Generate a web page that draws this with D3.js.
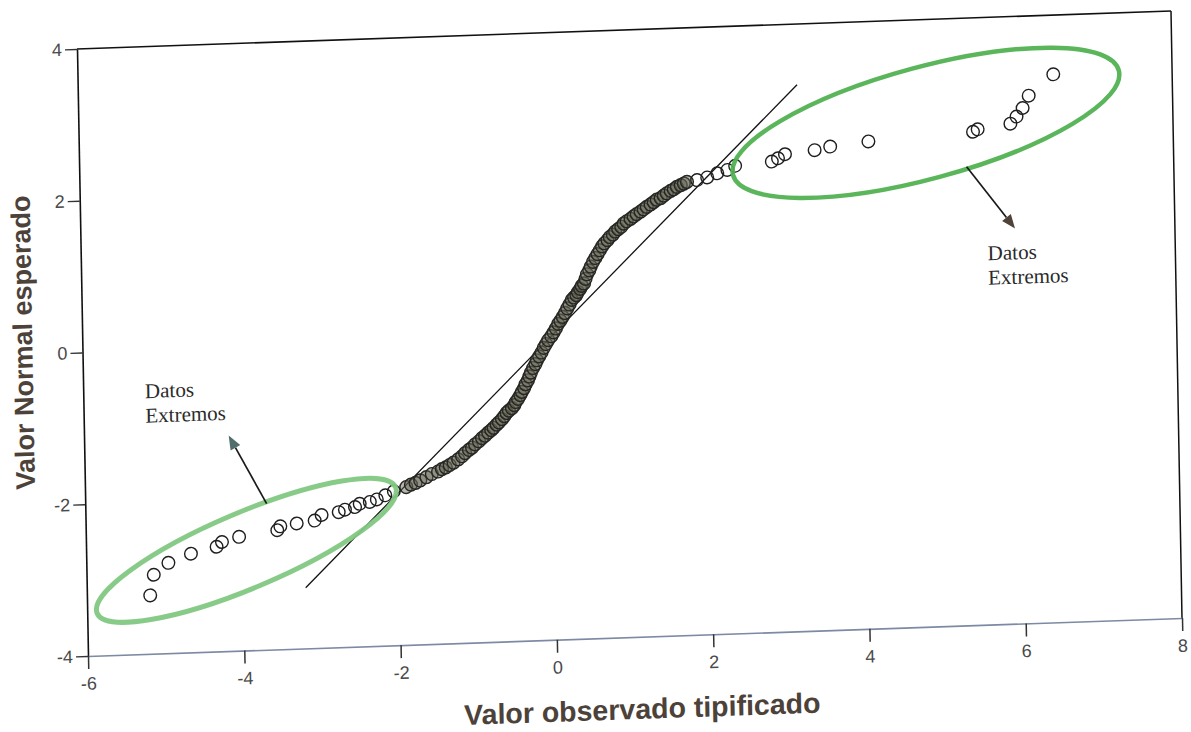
<!DOCTYPE html>
<html>
<head>
<meta charset="utf-8">
<script src="https://cdn.jsdelivr.net/npm/d3@7"></script>
<style>
  body { margin: 0; background: #ffffff; }
  svg { display: block; }
</style>
</head>
<body>
<svg id="chart" width="1191" height="732"></svg>
<script>
// Normal Q-Q plot: observed standardized value (x) against expected normal value (y)

// lower tail of the sample
const lowTailX = [-5.19, -5.14, -4.95, -4.66, -4.33, -4.26, -4.04, -3.55, -3.51, -3.30,
                  -3.07, -2.98, -2.76, -2.68, -2.55, -2.49, -2.36, -2.27, -2.16, -2.05];
const lowTailY = [-3.23, -2.96, -2.81, -2.70, -2.62, -2.56, -2.50, -2.43, -2.38, -2.35,
                  -2.32, -2.25, -2.22, -2.19, -2.16, -2.12, -2.10, -2.07, -2.02, -1.97];

// central body of the sample
const bodyX = [-1.89, -1.83, -1.77, -1.71, -1.63, -1.56, -1.48, -1.43, -1.38, -1.33,
               -1.28, -1.22, -1.17, -1.13, -1.08, -1.04, -1.00, -0.95, -0.91, -0.87,
               -0.83, -0.79, -0.76, -0.72, -0.69, -0.65, -0.62, -0.59, -0.56, -0.52,
               -0.49, -0.47, -0.44, -0.41, -0.39, -0.36, -0.34, -0.31, -0.29, -0.27,
               -0.24, -0.21, -0.19, -0.16, -0.13, -0.10, -0.07, -0.04, 0.00, 0.03,
               0.06, 0.09, 0.12, 0.15, 0.18, 0.21, 0.24, 0.27, 0.30, 0.33,
               0.35, 0.38, 0.40, 0.43, 0.45, 0.47, 0.50, 0.52, 0.55, 0.58,
               0.61, 0.64, 0.67, 0.70, 0.74, 0.77, 0.81, 0.84, 0.88, 0.92,
               0.95, 0.99, 1.04, 1.08, 1.12, 1.17, 1.21, 1.25, 1.30, 1.34,
               1.38, 1.43, 1.47, 1.51, 1.56, 1.60, 1.64, 1.69, 1.73, 1.77];
const bodyY = [-1.92, -1.89, -1.87, -1.84, -1.80, -1.76, -1.73, -1.70, -1.68, -1.65,
               -1.62, -1.58, -1.54, -1.50, -1.46, -1.43, -1.39, -1.35, -1.31, -1.28,
               -1.24, -1.21, -1.18, -1.14, -1.11, -1.07, -1.03, -0.99, -0.96, -0.93,
               -0.89, -0.85, -0.81, -0.76, -0.72, -0.67, -0.62, -0.57, -0.52, -0.47,
               -0.41, -0.36, -0.31, -0.26, -0.21, -0.15, -0.10, -0.05, 0.00, 0.05,
               0.10, 0.16, 0.20, 0.25, 0.30, 0.36, 0.41, 0.47, 0.50, 0.53,
               0.57, 0.61, 0.65, 0.68, 0.74, 0.80, 0.85, 0.90, 0.96, 1.01,
               1.06, 1.11, 1.16, 1.20, 1.24, 1.28, 1.31, 1.35, 1.38, 1.41,
               1.45, 1.48, 1.51, 1.54, 1.57, 1.60, 1.63, 1.66, 1.69, 1.72,
               1.75, 1.77, 1.80, 1.83, 1.86, 1.88, 1.91, 1.93, 1.95, 1.97];

// upper tail of the sample
const highTailX = [1.90, 2.03, 2.16, 2.29, 2.39,
                   2.86, 2.94, 3.03, 3.41, 3.61, 4.10, 5.44, 5.50, 5.92, 6.00, 6.08, 6.16, 6.48];
const highTailY = [1.99, 2.02, 2.07, 2.11, 2.16,
                   2.20, 2.24, 2.29, 2.33, 2.37, 2.42, 2.50, 2.53, 2.59, 2.68, 2.79, 2.95, 3.22];

// axes
const xDomain = [-6, 8];
const yDomain = [-4, 4];
const xTicks = [-6, -4, -2, 0, 2, 4, 6, 8];
const yTicks = [-4, -2, 0, 2, 4];
const xTitle = "Valor observado tipificado";
const yTitle = "Valor Normal esperado";

// reference line y = x
const refLineX = [-3.2, 3.2];

// "Datos Extremos" call-outs: low group, high group
const noteLines = ["Datos", "Extremos"];
const groupCenterX = [-3.95, 4.84];
const groupCenterY = [-2.68, 2.64];
const arrowFromX = [-3.68, 5.35];
const arrowFromY = [-2.075, 2.042];
const arrowToX = [-4.15, 5.955];
const arrowToY = [-1.16, 1.207];
const noteX = [-5.21, 5.60];
const noteY = [-0.63, 0.80];

// ---------------------------------------------------------------------------
const W = 1094, H = 607;
const svg = d3.select("#chart");

// the printed page sits slightly askew
const g = svg.append("g")
  .attr("transform", "matrix(1,-0.03473,0.01812,1,77,49)");

const x = d3.scaleLinear().domain(xDomain).range([0, W]);
const y = d3.scaleLinear().domain(yDomain).range([H, 0]);

const tickFont = "'Liberation Sans', Arial, sans-serif";
const plain = d => String(d);

// frame: top and right edges
g.append("line").attr("x1", 0).attr("y1", 0).attr("x2", W).attr("y2", 0)
  .attr("stroke", "#111").attr("stroke-width", 1.6);
g.append("line").attr("x1", W).attr("y1", 0).attr("x2", W).attr("y2", H)
  .attr("stroke", "#111").attr("stroke-width", 1.5);

// left axis
const yAxis = g.append("g")
  .call(d3.axisLeft(y).tickValues(yTicks).tickSize(12).tickSizeOuter(0).tickPadding(3)
    .tickFormat(plain));
yAxis.select(".domain").attr("stroke", "#111").attr("stroke-width", 1.6);
yAxis.selectAll(".tick line").attr("stroke", "#333").attr("stroke-width", 1.4);
yAxis.selectAll(".tick text")
  .attr("font-family", tickFont).attr("font-size", 18).attr("fill", "#4a4a4a");

// bottom axis
const xAxis = g.append("g").attr("transform", `translate(0,${H})`)
  .call(d3.axisBottom(x).tickValues(xTicks).tickSize(13).tickSizeOuter(0).tickPadding(8)
    .tickFormat(plain));
xAxis.select(".domain").attr("stroke", "#7d8aa3").attr("stroke-width", 1.7);
xAxis.selectAll(".tick line").attr("stroke", "#333").attr("stroke-width", 1.5);
xAxis.selectAll(".tick text")
  .attr("font-family", tickFont).attr("font-size", 18).attr("fill", "#4a4a4a");

// axis titles
g.append("text")
  .attr("x", W / 2 + 6).attr("y", H + 82)
  .attr("text-anchor", "middle")
  .attr("font-family", tickFont).attr("font-weight", "bold").attr("font-size", 28.5)
  .attr("fill", "#4d4239")
  .text(xTitle);
g.append("text")
  .attr("transform", `translate(-50,${H / 2 - 12}) rotate(-90)`)
  .attr("text-anchor", "middle")
  .attr("font-family", tickFont).attr("font-weight", "bold").attr("font-size", 27)
  .attr("fill", "#4d4239")
  .text(yTitle);

// reference line
g.append("line")
  .attr("x1", x(refLineX[0])).attr("y1", y(refLineX[0]))
  .attr("x2", x(refLineX[1])).attr("y2", y(refLineX[1]))
  .attr("stroke", "#111").attr("stroke-width", 1.3);

// sample points: the tightly packed body reads as a shaded band
const toPoints = (xs, ys) => xs.map((v, i) => ({ x: v, y: ys[i] }));
const marks = g.append("g");
marks.selectAll("circle.body").data(toPoints(bodyX, bodyY)).join("circle")
  .attr("class", "body")
  .attr("cx", d => x(d.x)).attr("cy", d => y(d.y))
  .attr("r", 6.4)
  .attr("fill", "#5f5f50").attr("fill-opacity", 0.45)
  .attr("stroke", "#262622")
  .attr("stroke-width", 1.4);
marks.selectAll("circle.tail").data(toPoints(lowTailX, lowTailY).concat(toPoints(highTailX, highTailY))).join("circle")
  .attr("class", "tail")
  .attr("cx", d => x(d.x)).attr("cy", d => y(d.y))
  .attr("r", 6.3)
  .attr("fill", "none")
  .attr("stroke", "#1e1e1e")
  .attr("stroke-width", 1.4);

// rings around the extreme groups
const ringStyle = [
  { rx: 161, ry: 38, angle: -21, color: "#82c882", width: 5 },
  { rx: 199, ry: 56, angle: -13.2, color: "#52b152", width: 4.5 }
];
groupCenterX.forEach((cx, i) => {
  const s = ringStyle[i];
  g.append("ellipse")
    .attr("transform", `translate(${x(cx)},${y(groupCenterY[i])}) rotate(${s.angle})`)
    .attr("rx", s.rx).attr("ry", s.ry)
    .attr("fill", "none").attr("stroke", s.color).attr("stroke-width", s.width)
    .attr("stroke-opacity", 0.95);
});

// arrows to the call-out labels
const headColor = ["#4f6e6c", "#4e4239"];
arrowFromX.forEach((fx, i) => {
  const x0 = x(fx), y0 = y(arrowFromY[i]);
  const x1 = x(arrowToX[i]), y1 = y(arrowToY[i]);
  const len = Math.hypot(x1 - x0, y1 - y0);
  const ux = (x1 - x0) / len, uy = (y1 - y0) / len;
  const headLen = 14, headHalf = 5.5;
  const bx = x1 - ux * headLen, by = y1 - uy * headLen;
  g.append("line")
    .attr("x1", x0).attr("y1", y0).attr("x2", bx).attr("y2", by)
    .attr("stroke", "#1a1a1a").attr("stroke-width", 1.7);
  g.append("path")
    .attr("d", `M${x1},${y1}L${bx - uy * headHalf},${by + ux * headHalf}L${bx + uy * headHalf},${by - ux * headHalf}Z`)
    .attr("fill", headColor[i]);
});

// call-out labels
noteX.forEach((nx, i) => {
  const t = g.append("text")
    .attr("x", x(nx)).attr("y", y(noteY[i]))
    .attr("font-family", "'Liberation Serif', 'Times New Roman', serif")
    .attr("font-size", 21).attr("fill", "#2a2a2a");
  noteLines.forEach((line, k) => {
    t.append("tspan").attr("x", x(nx)).attr("dy", k === 0 ? 0 : 24.5).text(line);
  });
});
</script>
</body>
</html>
